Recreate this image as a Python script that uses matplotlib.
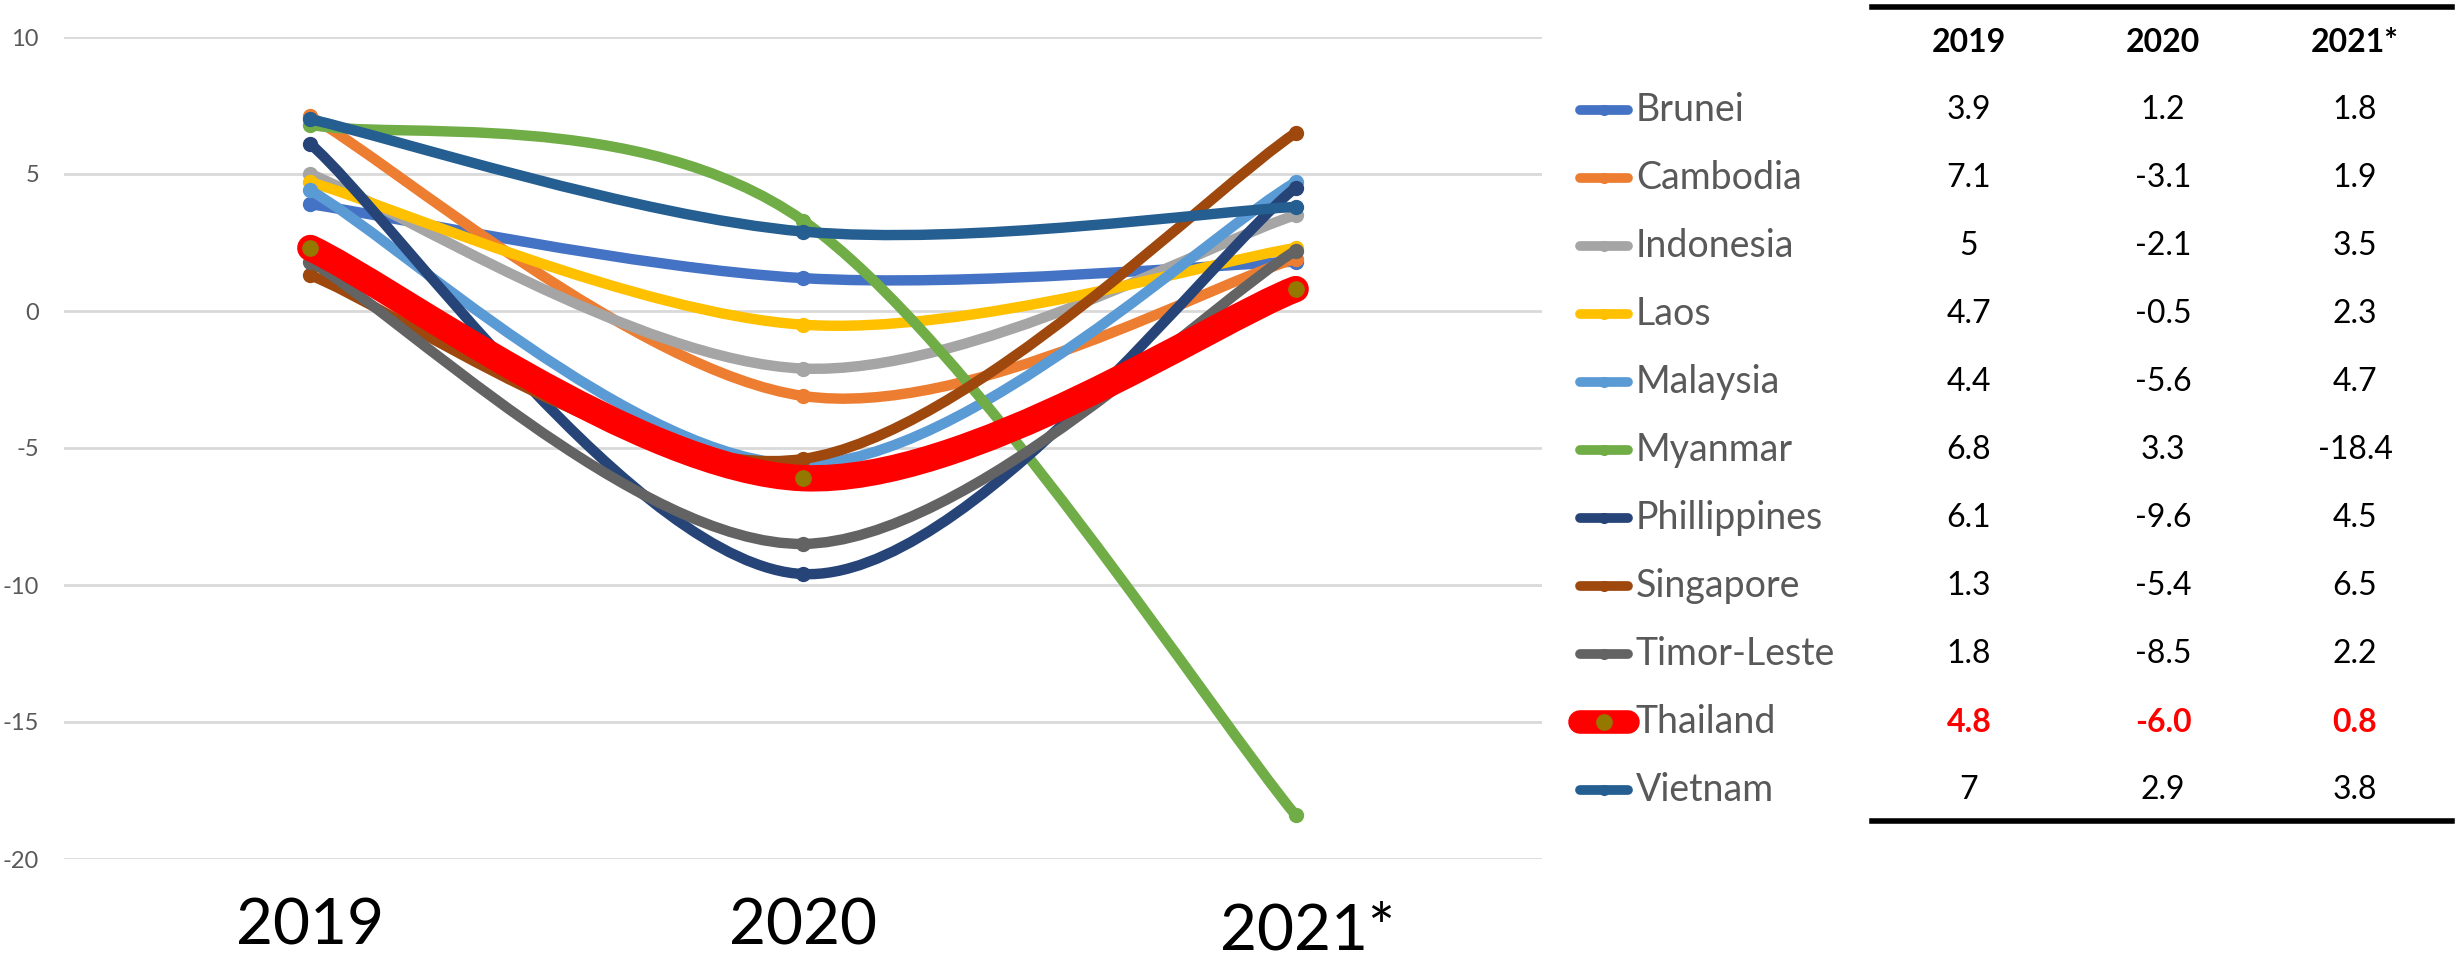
import numpy as np
import matplotlib
matplotlib.use("Agg")
import matplotlib.pyplot as plt
import matplotlib.transforms as mtransforms
from matplotlib.path import Path
from matplotlib.patches import PathPatch
from matplotlib.lines import Line2D

plt.rcParams['font.family'] = ['Lato', 'DejaVu Sans']
plt.rcParams['axes.unicode_minus'] = False

# ---- data ----
years = ['2019', '2020', '2021*']
countries = ['Brunei', 'Cambodia', 'Indonesia', 'Laos', 'Malaysia', 'Myanmar',
             'Phillippines', 'Singapore', 'Timor-Leste', 'Thailand', 'Vietnam']

# values as plotted in the chart
gdp_2019 = [3.9, 7.1, 5.0, 4.7, 4.4, 6.8, 6.1, 1.3, 1.8, 2.3, 7.0]
gdp_2020 = [1.2, -3.1, -2.1, -0.5, -5.6, 3.3, -9.6, -5.4, -8.5, -6.1, 2.9]
gdp_2021 = [1.8, 1.9, 3.5, 2.3, 4.7, -18.4, 4.5, 6.5, 2.2, 0.8, 3.8]

# values as printed in the table
table_2019 = ['3.9', '7.1', '5', '4.7', '4.4', '6.8', '6.1', '1.3', '1.8', '4.8', '7']
table_2020 = ['1.2', '-3.1', '-2.1', '-0.5', '-5.6', '3.3', '-9.6', '-5.4', '-8.5', '-6.0', '2.9']
table_2021 = ['1.8', '1.9', '3.5', '2.3', '4.7', '-18.4', '4.5', '6.5', '2.2', '0.8', '3.8']

colors = ['#4472C4', '#ED7D31', '#A5A5A5', '#FFC000', '#5B9BD5', '#70AD47',
          '#264478', '#9E480E', '#636363', '#FF0000', '#255E91']
highlight = 'Thailand'
thai_marker = '#957800'

W, H = 2455, 961


def smooth_path(xs, ys):
    # excel style smoothed line: catmull-rom segments as cubic beziers
    pts = np.column_stack([xs, ys]).astype(float)
    n = len(pts)
    verts = [pts[0]]
    codes = [Path.MOVETO]
    for i in range(n - 1):
        p0 = pts[max(i - 1, 0)]
        p1 = pts[i]
        p2 = pts[i + 1]
        p3 = pts[min(i + 2, n - 1)]
        verts += [p1 + (p2 - p0) / 6.0, p2 - (p3 - p1) / 6.0, p2]
        codes += [Path.CURVE4] * 3
    return Path(verts, codes)


def fx(px):
    return px / W


def fy(py):
    return 1 - py / H


fig = plt.figure(figsize=(W / 100, H / 100), dpi=100)
ax = fig.add_axes([fx(64), fy(859), (1542 - 64) / W, (859 - 37) / H])

x = np.arange(len(years))
for i, name in enumerate(countries):
    ys = [gdp_2019[i], gdp_2020[i], gdp_2021[i]]
    if name == highlight:
        lw, ms, mc = 19, 11, thai_marker
    else:
        lw, ms, mc = 7.5, 10, colors[i]
    patch = PathPatch(smooth_path(x, ys), facecolor='none', edgecolor=colors[i],
                      lw=lw, capstyle='round', joinstyle='round', zorder=3 + i)
    ax.add_patch(patch)
    ax.plot(x, ys, ls='none', marker='o', ms=ms, mfc=mc, mec=mc, zorder=3 + i,
            clip_on=False)

ax.set_xlim(-0.5, 2.5)
ax.set_ylim(-20, 10)
ax.set_yticks(range(-20, 11, 5))
ax.set_xticks(x)
ax.set_xticklabels(years, fontsize=46, color='black')
ax.tick_params(axis='x', length=0, pad=28)
ax.tick_params(axis='y', length=0, pad=18, labelsize=17, labelcolor='#595959')
ax.yaxis.grid(True, color='#D9D9D9', lw=2)
ax.set_axisbelow(True)
for s in ax.spines.values():
    s.set_visible(False)

# the last year label sits a little lower in the original
lbl = ax.get_xticklabels()[-1]
lbl.set_transform(lbl.get_transform() +
                  mtransforms.ScaledTranslation(0.12, -0.05, fig.dpi_scale_trans))

# ---- legend + table on the right ----
col_x = [1969, 2163, 2355]
row_y = [110 + 68 * k for k in range(len(countries))]

fig.add_artist(Line2D([fx(1872), fx(2452)], [fy(7), fy(7)], color='black', lw=4))
fig.add_artist(Line2D([fx(1872), fx(2452)], [fy(821), fy(821)], color='black', lw=4))
for cx, yr in zip(col_x, years):
    fig.text(fx(cx), fy(43), yr, ha='center', va='center', fontsize=23,
             fontweight='bold', color='black')

for i, name in enumerate(countries):
    ry = row_y[i]
    if name == highlight:
        lw, ms, mc = 17, 11, thai_marker
    else:
        lw, ms, mc = 7, 7, colors[i]
    fig.add_artist(Line2D([fx(1580), fx(1628)], [fy(ry), fy(ry)], color=colors[i],
                          lw=lw, solid_capstyle='round'))
    fig.add_artist(Line2D([fx(1604)], [fy(ry)], ls='none', marker='o', ms=ms,
                          mfc=mc, mec=mc))
    fig.text(fx(1636), fy(ry), name, ha='left', va='center', fontsize=27,
             color='#595959')
    vals = [table_2019[i], table_2020[i], table_2021[i]]
    for cx, v in zip(col_x, vals):
        if name == highlight:
            fig.text(fx(cx), fy(ry), v, ha='center', va='center', fontsize=23,
                     fontweight='bold', color='#FF0000')
        else:
            fig.text(fx(cx), fy(ry), v, ha='center', va='center', fontsize=23,
                     color='black')

fig.savefig('out.png', dpi=100)
